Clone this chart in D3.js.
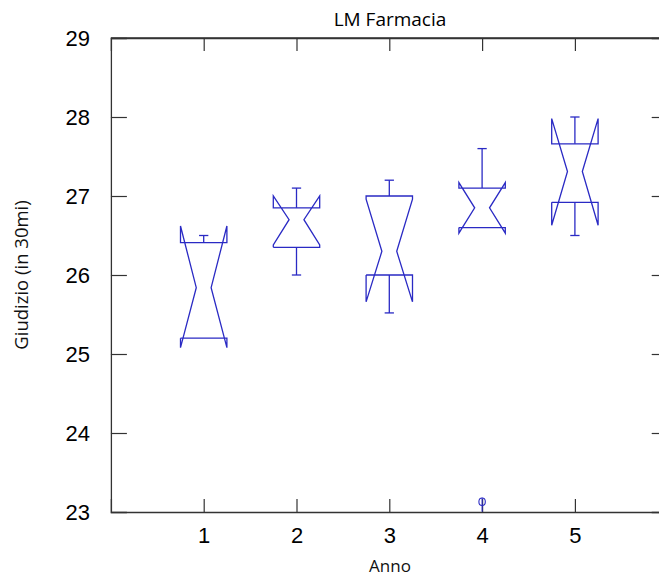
<!DOCTYPE html>
<html>
<head>
<meta charset="utf-8">
<script src="https://cdn.jsdelivr.net/npm/d3@7"></script>
<style>
  html, body { margin: 0; padding: 0; background: #fff; }
  svg { display: block; }
</style>
</head>
<body>
<script>
// ---- data ----
const years      = [1, 2, 3, 4, 5];
const q1         = [25.20, 26.35, 26.00, 26.60, 26.92];
const medians    = [25.84, 26.70, 26.30, 26.85, 27.31];
const q3         = [26.41, 26.85, 27.00, 27.10, 27.66];
const notchLo    = [25.08, 26.38, 25.66, 26.53, 26.63];
const notchHi    = [26.62, 27.00, 26.96, 27.17, 27.98];
const whiskerLo  = [25.20, 26.00, 25.52, 26.60, 26.50];
const whiskerHi  = [26.50, 27.10, 27.20, 27.60, 28.00];
const outlierYears  = [4];
const outlierValues = [23.13];
const xTicks = [1, 2, 3, 4, 5];
const yTicks = [23, 24, 25, 26, 27, 28, 29];

const W = 659, H = 578;
const svg = d3.select("body").append("svg").attr("width", W).attr("height", H);

const x = d3.scaleLinear().domain([0, 6]).range([110.9, 667.7]);
const y = d3.scaleLinear().domain([23, 29]).range([512, 38]);

const axisColor = "#333";
const boxColor = "#2a2ac4";
const tickFont = "'Liberation Sans', Arial, sans-serif";
const labelFont = "'Open Sans', 'Noto Sans', sans-serif";

// frame
const g = svg.append("g");
g.append("line").attr("x1", x(0)).attr("x2", x(6)).attr("y1", y(29)).attr("y2", y(29))
  .attr("stroke", axisColor).attr("stroke-width", 1.3);
g.append("line").attr("x1", x(6)).attr("x2", x(6)).attr("y1", y(23)).attr("y2", y(29))
  .attr("stroke", axisColor).attr("stroke-width", 1.3);

// left axis
const yAxis = svg.append("g").attr("transform", `translate(${x(0)},0)`)
  .call(d3.axisLeft(y).tickValues(yTicks).tickSize(-16).tickPadding(21).tickFormat(d3.format("d")));
// right axis ticks (no labels)
const yAxisR = svg.append("g").attr("transform", `translate(${x(6)},0)`)
  .call(d3.axisRight(y).tickValues(yTicks).tickSize(-16).tickFormat(""));
// bottom axis
const xAxis = svg.append("g").attr("transform", `translate(0,${y(23)})`)
  .call(d3.axisBottom(x).tickValues(xTicks).tickSize(-13).tickPadding(15).tickFormat(d3.format("d")));
// top axis ticks
const xAxisT = svg.append("g").attr("transform", `translate(0,${y(29)})`)
  .call(d3.axisTop(x).tickValues(xTicks).tickSize(-13).tickFormat(""));

[yAxis, yAxisR, xAxis, xAxisT].forEach(a => {
  a.select(".domain").attr("stroke", axisColor).attr("stroke-width", 1.3);
  a.selectAll(".tick line").attr("stroke", axisColor).attr("stroke-width", 1.2);
  a.selectAll(".tick text").attr("fill", "#000").style("font-family", tickFont).style("font-size", "22px");
});
// hide ticks at ends (they coincide with frame)
yAxis.selectAll(".tick").filter(d => d === 23 || d === 29).select("line").remove();
yAxisR.selectAll(".tick").filter(d => d === 23 || d === 29).select("line").remove();

// boxes
const halfW = 0.25, waist = 0.08, cap = 0.05;
const boxes = years.map((yr, i) => ({
  yr, q1: q1[i], med: medians[i], q3: q3[i], nlo: notchLo[i], nhi: notchHi[i],
  wlo: whiskerLo[i], whi: whiskerHi[i]
}));
const bg = svg.append("g").attr("fill", "none").attr("stroke", boxColor).attr("stroke-width", 1.3);
const line = d3.line().x(d => x(d[0])).y(d => y(d[1]));
boxes.forEach(b => {
  const L = b.yr - halfW, R = b.yr + halfW;
  const pts = [
    [L, b.q1], [L, b.nlo], [b.yr - waist, b.med], [L, b.nhi], [L, b.q3],
    [R, b.q3], [R, b.nhi], [b.yr + waist, b.med], [R, b.nlo], [R, b.q1], [L, b.q1]
  ];
  bg.append("path").attr("d", line(pts)).attr("stroke-linejoin", "miter");
  // upper whisker
  if (b.whi > b.q3) {
    bg.append("path").attr("d", line([[b.yr, b.q3], [b.yr, b.whi]]));
    bg.append("path").attr("d", line([[b.yr - cap, b.whi], [b.yr + cap, b.whi]]));
  }
  if (b.wlo < b.q1) {
    bg.append("path").attr("d", line([[b.yr, b.q1], [b.yr, b.wlo]]));
    bg.append("path").attr("d", line([[b.yr - cap, b.wlo], [b.yr + cap, b.wlo]]));
  }
});

// outliers
outlierYears.forEach((yr, i) => {
  const cx = x(yr), cy = y(outlierValues[i]);
  bg.append("ellipse").attr("cx", cx).attr("cy", cy).attr("rx", 3.2).attr("ry", 3.8).attr("stroke-width", 1.1);
  bg.append("line").attr("x1", cx).attr("x2", cx).attr("y1", cy - 4).attr("y2", cy + 10).attr("stroke-width", 1.1);
});

// title and labels
svg.append("text").attr("x", 390).attr("y", 26).attr("text-anchor", "middle")
  .style("font-family", labelFont).style("font-size", "19px").attr("fill", "#000").text("LM Farmacia");
svg.append("text").attr("x", 390).attr("y", 572).attr("text-anchor", "middle")
  .style("font-family", labelFont).style("font-size", "17px").attr("fill", "#111").text("Anno");
svg.append("text").attr("transform", "translate(28,275) rotate(-90)").attr("text-anchor", "middle")
  .style("font-family", labelFont).style("font-size", "18.5px").attr("fill", "#111").text("Giudizio (in 30mi)");
</script>
</body>
</html>
